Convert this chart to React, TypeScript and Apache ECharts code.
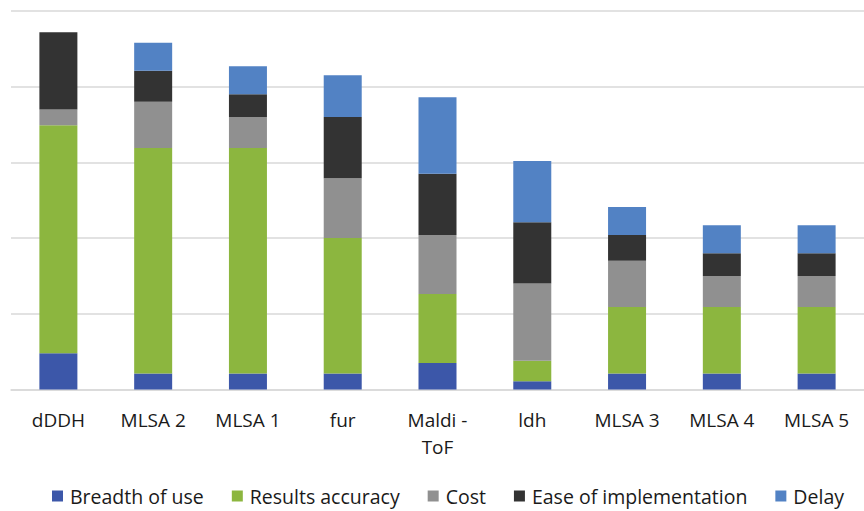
import React, { useEffect, useRef } from "react";
import * as echarts from "echarts";

const categories = ["dDDH", "MLSA 2", "MLSA 1", "fur", "Maldi - ToF", "ldh", "MLSA 3", "MLSA 4", "MLSA 5"];
const breadthOfUse = [4.8, 2.1, 2.1, 2.1, 3.5, 1.1, 2.1, 2.1, 2.1];
const resultsAccuracy = [30.1, 29.8, 29.8, 17.9, 9.1, 2.7, 8.8, 8.8, 8.8];
const cost = [2.1, 6.1, 4.1, 7.9, 7.8, 10.2, 6.1, 4.1, 4.1];
const easeOfImplementation = [10.2, 4.1, 3.0, 8.1, 8.1, 8.1, 3.4, 3.0, 3.0];
const delay = [0, 3.7, 3.7, 5.5, 10.1, 8.1, 3.7, 3.7, 3.7];

const seriesDefs = [
  { name: "Breadth of use", data: breadthOfUse, color: "#3C57A9" },
  { name: "Results accuracy", data: resultsAccuracy, color: "#8CB63F" },
  { name: "Cost", data: cost, color: "#909090" },
  { name: "Ease of implementation", data: easeOfImplementation, color: "#333333" },
  { name: "Delay", data: delay, color: "#5282C4" },
];

const FONT = "Open Sans";

export default function App() {
  const ref = useRef<HTMLDivElement>(null);
  useEffect(() => {
    if (!ref.current) return;
    const chart = echarts.init(ref.current, undefined, { renderer: "svg" });
    chart.setOption({
      animation: false,
      grid: { left: 11, right: -14, top: 11, bottom: 511 - 389.5 },
      legend: {
        left: 47,
        top: 481,
        itemWidth: 11,
        itemHeight: 11,
        itemGap: 28,
        icon: "rect",
        textStyle: { fontFamily: FONT, fontSize: 19.5, color: "#1a1a1a", lineHeight: 19, padding: [0, 0, 0, 2] },
        data: seriesDefs.map((s) => s.name),
      },
      xAxis: {
        type: "category",
        data: categories,
        axisLine: { show: true, lineStyle: { color: "#d9d9d9", width: 1.5 } },
        axisTick: { show: false },
        axisLabel: {
          interval: 0,
          margin: 17,
          fontFamily: FONT,
          fontSize: 19,
          lineHeight: 27,
          color: "#1a1a1a",
          formatter: (v: string) => v.replace(" ToF", "\nToF"),
        },
      },
      yAxis: {
        type: "value",
        min: 0,
        max: 50,
        interval: 10,
        axisLabel: { show: false },
        axisLine: { show: false },
        axisTick: { show: false },
        splitLine: { show: true, lineStyle: { color: "#d9d9d9", width: 1.5 } },
      },
      series: seriesDefs.map((s) => ({
        name: s.name,
        type: "bar",
        stack: "total",
        barWidth: 38,
        data: s.data,
        itemStyle: { color: s.color },
      })),
    });
    return () => chart.dispose();
  }, []);
  return (
    <div
      ref={ref}
      style={{ position: "fixed", left: 0, top: 0, width: 864, height: 511, background: "#fff" }}
    />
  );
}
